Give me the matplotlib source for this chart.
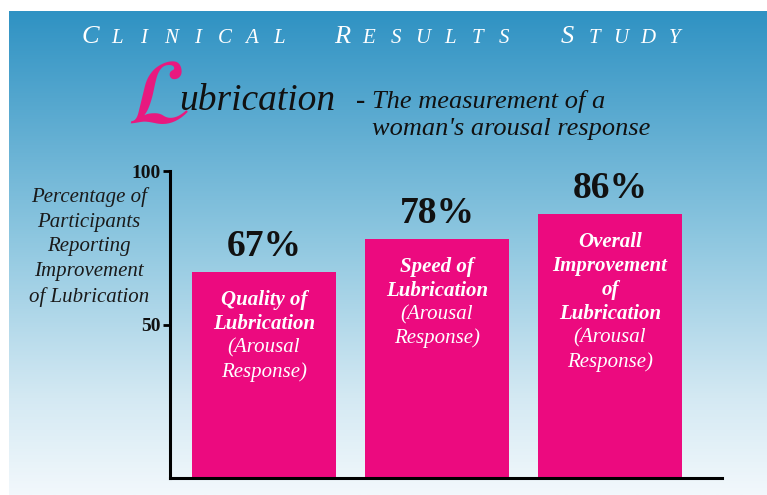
import numpy as np
import matplotlib
matplotlib.use("Agg")
import matplotlib.pyplot as plt
from matplotlib.colors import LinearSegmentedColormap

# === DATOS ===
categorias = ["Quality of\nLubrication", "Speed of\nLubrication",
              "Overall\nImprovement\nof\nLubrication"]
subtitulo = "(Arousal\nResponse)"
valores = [67, 78, 86]
etiquetas = ["67%", "78%", "86%"]
ticks_y = [50, 100]
titulo = "CLINICAL RESULTS STUDY"
ylabel = "Percentage of\nParticipants\nReporting\nImprovement\nof Lubrication"

W, H = 767, 495
fig = plt.figure(figsize=(W / 100, H / 100), dpi=100)
fig.patch.set_facecolor("white")

def px(x, y):
    # pixel (desde arriba) -> fraccion de figura
    return x / W, 1 - y / H

# === FONDO DEGRADADO ===
bg = fig.add_axes([9 / W, 0, 1 - 9 / W, 1 - 11 / H])
cmap = LinearSegmentedColormap.from_list(
    "fondo", [(0.0, "#2f92c3"), (0.47, "#8ec7e0"), (0.8, "#d4e9f3"), (1.0, "#f2f8fc")])
grad = np.linspace(0, 1, 256).reshape(-1, 1)
bg.imshow(grad, aspect="auto", cmap=cmap, extent=[0, 1, 1, 0])
bg.set_xlim(0, 1)
bg.set_ylim(1, 0)
bg.axis("off")

# === TITULO (versalitas espaciadas) ===
x = 90
for palabra in titulo.split(" "):
    for k, letra in enumerate(palabra):
        size = 19 if k == 0 else 15
        fig.text(*px(x, 43), letra, color="white", fontsize=size, style="italic",
                 family="Liberation Serif", ha="center", va="baseline")
        x += 27
    x += 36

# L decorativa + resto del encabezado
fig.text(*px(158, 123), r"$\mathcal{L}$", color="#e8197f", fontsize=66,
         math_fontfamily="stix", ha="center", va="baseline")
fig.text(*px(179, 110), "ubrication", color="#111111", fontsize=27, style="italic",
         family="Liberation Serif", ha="left", va="baseline")
fig.text(*px(356, 108), "-", color="#111111", fontsize=20, fontweight="bold",
         family="Liberation Serif", ha="left", va="baseline")
fig.text(*px(372, 108), "The measurement of a", color="#111111", fontsize=19,
         style="italic", family="Liberation Serif", ha="left", va="baseline")
fig.text(*px(372, 135), "woman's arousal response", color="#111111", fontsize=19,
         style="italic", family="Liberation Serif", ha="left", va="baseline")

# === GRAFICO DE BARRAS ===
paso = 173.0
x_ini, x_fin = 170, 722
y_top, y_bot = 171, 478
ax = fig.add_axes([x_ini / W, (H - y_bot) / H, (x_fin - x_ini) / W, (y_bot - y_top) / H])
ax.patch.set_alpha(0)
pos = np.arange(len(valores))
ax.bar(pos, valores, width=144 / paso, color="#ec0a7f", zorder=2)
ax.set_xlim(-(264 - x_ini) / paso, (x_fin - 264) / paso)
ax.set_ylim(0, 100)

for s in ["top", "right"]:
    ax.spines[s].set_visible(False)
ax.spines["left"].set_linewidth(2.2)
ax.spines["bottom"].set_linewidth(2.2)
ax.set_xticks([])
ax.set_yticks(ticks_y)
ax.set_yticklabels([str(t) for t in ticks_y], fontsize=14, fontweight="bold",
                   family="Liberation Serif", color="#111111")
ax.tick_params(axis="y", length=5, width=2, pad=2)

for i, v in enumerate(valores):
    ax.annotate(etiquetas[i], (pos[i], v), xytext=(0, 8), textcoords="offset pixels",
                ha="center", va="bottom", fontsize=27, fontweight="bold",
                family="Liberation Serif", color="#111111")
    lineas = categorias[i].split("\n")
    subl = subtitulo.split("\n")
    for j, linea in enumerate(lineas + subl):
        negrita = j < len(lineas)
        ax.annotate(linea, (pos[i], v), xytext=(0, -28 - 24 * j), textcoords="offset pixels",
                    ha="center", va="center", fontsize=15, color="white",
                    fontweight="bold" if negrita else "normal", style="italic",
                    family="Liberation Serif")

fig.text(*px(89, 247), ylabel, ha="center", va="center", fontsize=15, style="italic",
         family="Liberation Serif", color="#1a1a1a", linespacing=1.4)

fig.savefig("out.png", dpi=100, facecolor=fig.get_facecolor())
